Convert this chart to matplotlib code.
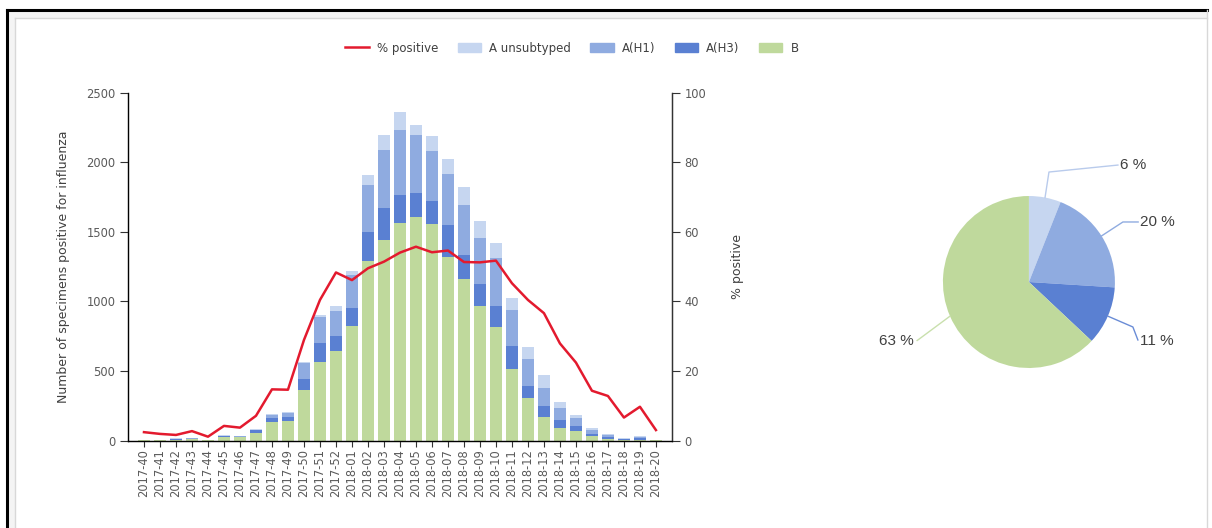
#!/usr/bin/env python3
"""
Weekly influenza positives (stacked by type/subtype) with % positive line,
plus a pie of the season's cumulative share per type.
"""

import numpy as np
import matplotlib
matplotlib.use("Agg")
import matplotlib.pyplot as plt
from matplotlib.lines import Line2D
from matplotlib.patches import Patch, Rectangle

# --- data ------------------------------------------------------------------
weeks = [f"2017-{w}" for w in range(40, 53)] + [f"2018-{w:02d}" for w in range(1, 21)]

b_counts = [2, 2, 3, 10, 1, 28, 22, 56, 135, 139, 363, 563, 644,
            826, 1287, 1443, 1563, 1606, 1556, 1318, 1162, 963, 819, 517,
            303, 171, 92, 68, 30, 10, 2, 5, 1]
h3_counts = [1, 1, 5, 2, 1, 3, 6, 16, 25, 32, 77, 136, 110,
             125, 211, 228, 199, 173, 162, 228, 168, 163, 151, 165,
             89, 77, 56, 36, 20, 18, 8, 14, 1]
h1_counts = [1, 1, 6, 5, 1, 4, 3, 7, 22, 25, 120, 187, 180,
             240, 336, 414, 472, 419, 360, 369, 360, 329, 341, 257,
             192, 128, 84, 56, 25, 12, 4, 8, 0]
aun_counts = [1, 1, 2, 3, 0, 2, 2, 3, 8, 11, 7, 17, 36,
              24, 71, 113, 128, 72, 108, 108, 132, 125, 108, 84,
              91, 98, 47, 23, 17, 5, 2, 4, 0]
pct_positive = [2.4, 1.9, 1.6, 2.7, 1.1, 4.2, 3.7, 7.1, 14.7, 14.6, 28.9, 40.4, 48.3,
                46.1, 49.5, 51.4, 54.0, 55.7, 54.1, 54.6, 51.3, 51.2, 51.7, 45.2,
                40.4, 36.6, 27.9, 22.4, 14.3, 12.8, 6.6, 9.7, 3.0]

pie_labels = ["A unsubtyped", "A(H1)", "A(H3)", "B"]
pie_shares = [6, 20, 11, 63]

# --- style -----------------------------------------------------------------
C_AUN = "#c6d6f0"
C_H1 = "#8fabe0"
C_H3 = "#5a80d2"
C_B = "#bfd99c"
C_LINE = "#e31a2e"
C_TICK = "#5a5a5a"
C_AXIS = "#333333"

plt.rcParams["font.family"] = ["DejaVu Sans"]


def draw_frame(fig):
    # page-like border around the chart area, with a faint inner strip
    fig.add_artist(Rectangle((0.0058, 0.966), 0.99, 0.015, transform=fig.transFigure,
                             facecolor="#f4f4f4", edgecolor="none"))
    fig.add_artist(Rectangle((0.0058, 0.0), 0.0066, 0.981, transform=fig.transFigure,
                             facecolor="#f4f4f4", edgecolor="none"))
    fig.add_artist(Line2D([0.0058, 0.9958], [0.981, 0.981], transform=fig.transFigure,
                          color="black", lw=2.2))
    fig.add_artist(Line2D([0.0058, 0.0058], [0.0, 0.981], transform=fig.transFigure,
                          color="black", lw=2.2))
    fig.add_artist(Line2D([0.0124, 0.9958], [0.966, 0.966], transform=fig.transFigure,
                          color="#d8d8d8", lw=1.0))
    fig.add_artist(Line2D([0.0124, 0.0124], [0.0, 0.966], transform=fig.transFigure,
                          color="#d8d8d8", lw=1.0))
    fig.add_artist(Line2D([0.9958, 0.9958], [0.0, 0.981], transform=fig.transFigure,
                          color="#d8d8d8", lw=1.0))


def draw_bars(fig):
    ax = fig.add_axes([0.1056, 0.1657, 0.4488, 0.659])
    x = np.arange(len(weeks))
    width = 0.74

    bottom = np.zeros(len(weeks))
    for vals, col in [(b_counts, C_B), (h3_counts, C_H3), (h1_counts, C_H1), (aun_counts, C_AUN)]:
        ax.bar(x, vals, width, bottom=bottom, color=col, linewidth=0, zorder=2)
        bottom += np.array(vals)

    ax.set_xlim(-1, len(weeks))
    ax.set_ylim(0, 2500)
    ax.set_yticks([0, 500, 1000, 1500, 2000, 2500])
    ax.set_xticks(x)
    ax.set_xticklabels(weeks, rotation=90, fontsize=8.3, color=C_TICK)
    ax.tick_params(axis="y", labelsize=8.3, labelcolor=C_TICK, length=6, color=C_AXIS, pad=3)
    ax.tick_params(axis="x", length=4, color=C_AXIS, pad=2)
    ax.set_ylabel("Number of specimens positive for influenza", fontsize=9, color="#404040",
                  labelpad=12)
    ax.spines["top"].set_visible(False)
    for side in ["left", "bottom", "right"]:
        ax.spines[side].set_color(C_AXIS)
        ax.spines[side].set_linewidth(1.0)

    ax2 = ax.twinx()
    ax2.plot(x, pct_positive, color=C_LINE, lw=1.8, zorder=3)
    ax2.set_ylim(0, 100)
    ax2.set_yticks([0, 20, 40, 60, 80, 100])
    ax2.tick_params(axis="y", labelsize=8.3, labelcolor=C_TICK, length=6, color=C_AXIS, pad=3)
    ax2.set_ylabel("% positive", fontsize=9, color="#404040", labelpad=18)
    ax2.spines["top"].set_visible(False)
    ax2.spines["right"].set_color(C_AXIS)

    handles = [Line2D([], [], color=C_LINE, lw=1.8),
               Patch(color=C_AUN), Patch(color=C_H1), Patch(color=C_H3), Patch(color=C_B)]
    names = ["% positive"] + pie_labels
    fig.legend(handles, names, loc="center", bbox_to_anchor=(0.472, 0.909), ncol=5,
               frameon=False, fontsize=8.5, handlelength=2.0, handleheight=0.8,
               columnspacing=1.6, handletextpad=0.7, labelcolor="#404040")


def draw_pie(fig):
    ax = fig.add_axes([0.778, 0.303, 0.1419, 0.3258])
    cols = [C_AUN, C_H1, C_H3, C_B]
    wedges, _ = ax.pie(pie_shares, colors=cols, startangle=90, counterclock=False,
                       radius=1.0, wedgeprops=dict(linewidth=0))
    ax.set_xlim(-1, 1)
    ax.set_ylim(-1, 1)
    ax.set_aspect("equal")

    # leader lines: edge point -> elbow -> label, label placement per slice
    elbows = [(0.233, 1.279), (1.093, 0.698), (1.209, -0.523), (-1.291, -0.674)]
    ends = [(1.035, 1.36), (1.27, 0.698), (1.267, -0.674), (-1.30, -0.68)]
    text_pos = [(1.06, 1.36, "left"), (1.29, 0.698, "left"),
                (1.29, -0.69, "left"), (-1.34, -0.69, "right")]
    leader_cols = ["#b9cbec", "#8fabe0", "#6a8cd6", "#c9e0ad"]
    for w, share, el, en, tp, lc in zip(wedges, pie_shares, elbows, ends, text_pos, leader_cols):
        ang = np.deg2rad((w.theta1 + w.theta2) / 2)
        p0 = (np.cos(ang), np.sin(ang))
        ax.plot([p0[0], el[0], en[0]], [p0[1], el[1], en[1]], color=lc, lw=1.0,
                clip_on=False, zorder=1)
        ax.text(tp[0], tp[1], f"{share} %", ha=tp[2], va="center", fontsize=11,
                color="#404040", family=["Liberation Sans", "DejaVu Sans"], clip_on=False)


def main():
    fig = plt.figure(figsize=(12.12, 5.28), dpi=100)
    draw_frame(fig)
    draw_bars(fig)
    draw_pie(fig)
    fig.savefig("out.png", dpi=100)


if __name__ == "__main__":
    main()
